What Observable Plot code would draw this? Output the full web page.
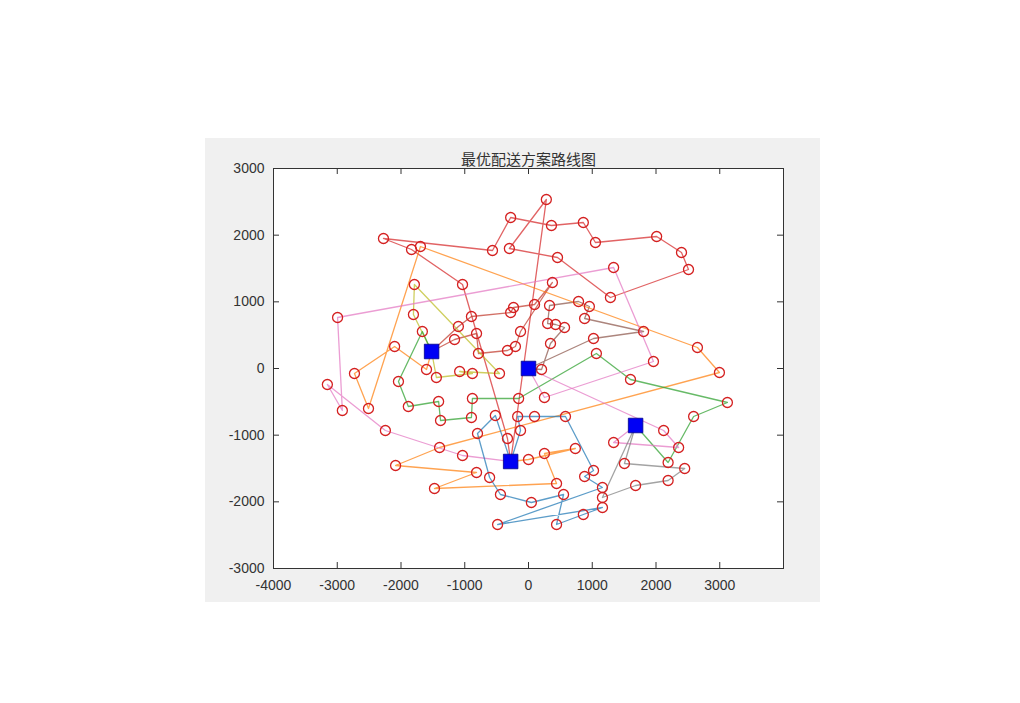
<!DOCTYPE html>
<html><head><meta charset="utf-8">
<script src="https://cdn.jsdelivr.net/npm/d3@7"></script>
<script src="https://cdn.jsdelivr.net/npm/@observablehq/plot@0.6"></script>
<style>
html,body{margin:0;padding:0;background:#fff}
body{width:1020px;height:703px;overflow:hidden;position:relative}
#bg{position:absolute;left:205px;top:138px;width:615px;height:464px;background:#f0f0f0}
#chart{position:absolute;left:0;top:0}
</style></head><body><div id="bg"></div><div id="chart"></div>
<script>
const title = "最优配送方案路线图";
const xTicks = [-4000,-3000,-2000,-1000,0,1000,2000,3000,4000];
const xTickLabels = ["-4000","-3000","-2000","-1000","0","1000","2000","3000",""];
const yTicks = [-3000,-2000,-1000,0,1000,2000,3000];
const yTickLabels = ["-3000","-2000","-1000","0","1000","2000","3000"];

const depotNames = ["A","B","C","D"];
const depotX = [-1520, 0, 1680, -280];
const depotY = [255, 0, -855, -1395];

const custId = [1,2,3,4,5,6,7,8,9,10,11,12,13,15,16,17,18,19,20,21,22,23,24,25,26,27,28,29,30,31,33,34,35,36,37,38,39,40,41,42,43,44,45,46,47,48,49,50,51,52,53,54,55,56,57,59,60,62,63,64,65,66,67,68,69,70,71,72,73,74,75,76,77,79,80,81,82,83,84,85,86,88,89,91,92,93,94,95,96,97,98,99,100,101,102,103,104,105,106,107,108,109,110,111,112,113];
const custX = [-2275,-1835,-1695,-1790,-1035,280,-280,360,860,1050,-565,-300,455,375,-235,95,330,785,955,2010,2400,2510,1335,1285,-2995,-1805,-1665,-1100,-1160,-2100,-2730,-1600,-1080,-1445,-2040,-3155,-2920,-2510,-1885,-1410,-1380,-895,-280,880,300,425,565,-815,-125,1020,345,-330,-205,-785,1065,-880,-455,205,-155,250,-880,-895,-520,-170,95,580,1805,2650,1960,1600,2995,3120,2590,-2245,-1395,-1035,-2085,-1475,-800,-125,-330,250,735,0,-815,-610,1020,880,1160,440,-440,550,45,1160,1160,860,-485,440,2120,2355,1335,1505,2190,2450,2190,1680];
const custY = [1950,1785,1830,1260,1260,2535,2265,2145,2190,1890,1770,1800,1665,1290,915,960,945,1005,930,1980,1740,1485,1515,1065,765,810,555,630,435,330,-75,-15,-45,-135,-195,-240,-630,-600,-570,-495,-780,780,840,750,675,660,615,525,555,450,375,270,330,225,225,-75,-75,-15,-450,-435,-450,-735,-705,-720,-720,-720,555,315,105,-165,-60,-510,-720,-930,-1185,-1305,-1455,-1800,-975,-930,-1050,-1275,-1200,-1365,-1560,-1635,-1530,-1620,-1785,-1725,-1890,-1890,-2010,-1935,-2085,-2190,-2340,-2340,-930,-1185,-1110,-1425,-1410,-1500,-1680,-1755];

const routeNames  = ["r1","r2","r3","r4","r5","r6","r7","r8","r9","r10"];
const routeColors = ["#d62728","#8c564b","#c0392b","#ff7f0e","#bcbd22","#2ca02c","#e377c2","#e377c2","#1f77b4","#7f7f7f"];
const routeStops = [
  ["D",6,12,13,25,23,22,21,10,9,8,7,11,1,2,5,86,"D"],
  ["B",62,53,49,48,47,18,19,20,46,71,52,"B"],
  ["A",29,44,45,16,17,15,51,55,54,56,50,30,"A"],
  ["A",34,31,33,40,3,72,75,80,82,92,83,97,88,89,91,"D"],
  ["A",27,4,60,35,59,36,"A"],
  ["A",28,37,41,42,43,66,65,63,57,74,76,77,110,"C"],
  ["D",81,79,38,39,26,24,73,64,"B"],
  ["B",106,107,108,"C"],
  ["D",67,84,93,98,100,99,105,103,102,104,96,95,94,70,69,68,85,"D"],
  ["C",109,111,112,113,101,"C"]
];

const pos = new Map();
depotNames.forEach((n,i)=>pos.set(n,[depotX[i],depotY[i]]));
custId.forEach((id,i)=>pos.set(id,[custX[i],custY[i]]));
const lineRows = [];
routeStops.forEach((stops,r)=>stops.forEach((s,k)=>{const p=pos.get(s);lineRows.push({route:routeNames[r],k,x:p[0],y:p[1]});}));
const custRows = custId.map((id,i)=>({x:custX[i],y:custY[i]}));
const depotRows = depotNames.map((n,i)=>({x:depotX[i],y:depotY[i]}));

const W=1020,H=703,mL=273,mR=237,mT=168,mB=135;
const plotW=W-mL-mR, plotH=H-mT-mB;
const font = "'Liberation Sans', Arial, sans-serif";

const chart = Plot.plot({
  width:W, height:H, marginLeft:mL, marginRight:mR, marginTop:mT, marginBottom:mB,
  style:{background:"transparent", fontFamily:font, fontSize:"14px", color:"#333"},
  x:{domain:[-4000,4000]},
  y:{domain:[-3000,3000]},
  color:{type:"ordinal", domain:routeNames, range:routeColors},
  marks:[
    Plot.frame({fill:"white"}),
    Plot.line(lineRows,{x:"x",y:"y",z:"route",stroke:"route",strokeWidth:1.3,strokeOpacity:0.72}),
    Plot.dot(custRows,{x:"x",y:"y",r:5,stroke:"#d42020",strokeWidth:1.3,fill:"none"}),
    Plot.dot(depotRows,{x:"x",y:"y",symbol:"square",r:8.2,fill:"#0000f5",stroke:"#00008a",strokeWidth:0.8}),
    Plot.ruleX(xTicks,{x:d=>d,insetTop:plotH-6,stroke:"#333"}),
    Plot.ruleX(xTicks,{x:d=>d,insetBottom:plotH-6,stroke:"#333"}),
    Plot.ruleY(yTicks,{y:d=>d,insetRight:plotW-6,stroke:"#333"}),
    Plot.ruleY(yTicks,{y:d=>d,insetLeft:plotW-6,stroke:"#333"}),
    Plot.frame({stroke:"#333",strokeWidth:1}),
    Plot.axisX(xTicks,{tickSize:0,tickPadding:12,fontSize:14,fill:"#333",tickFormat:(d)=>xTickLabels[xTicks.indexOf(d)],label:null}),
    Plot.axisY(yTicks,{tickSize:0,tickPadding:9,fontSize:14,fill:"#333",tickFormat:(d)=>yTickLabels[yTicks.indexOf(d)],label:null}),
    Plot.text([title],{frameAnchor:"top",dy:-14,fontSize:15,fill:"#333",fontFamily:"'Noto Sans CJK SC', sans-serif"})
  ]
});
document.getElementById("chart").appendChild(chart);
</script></body></html>
